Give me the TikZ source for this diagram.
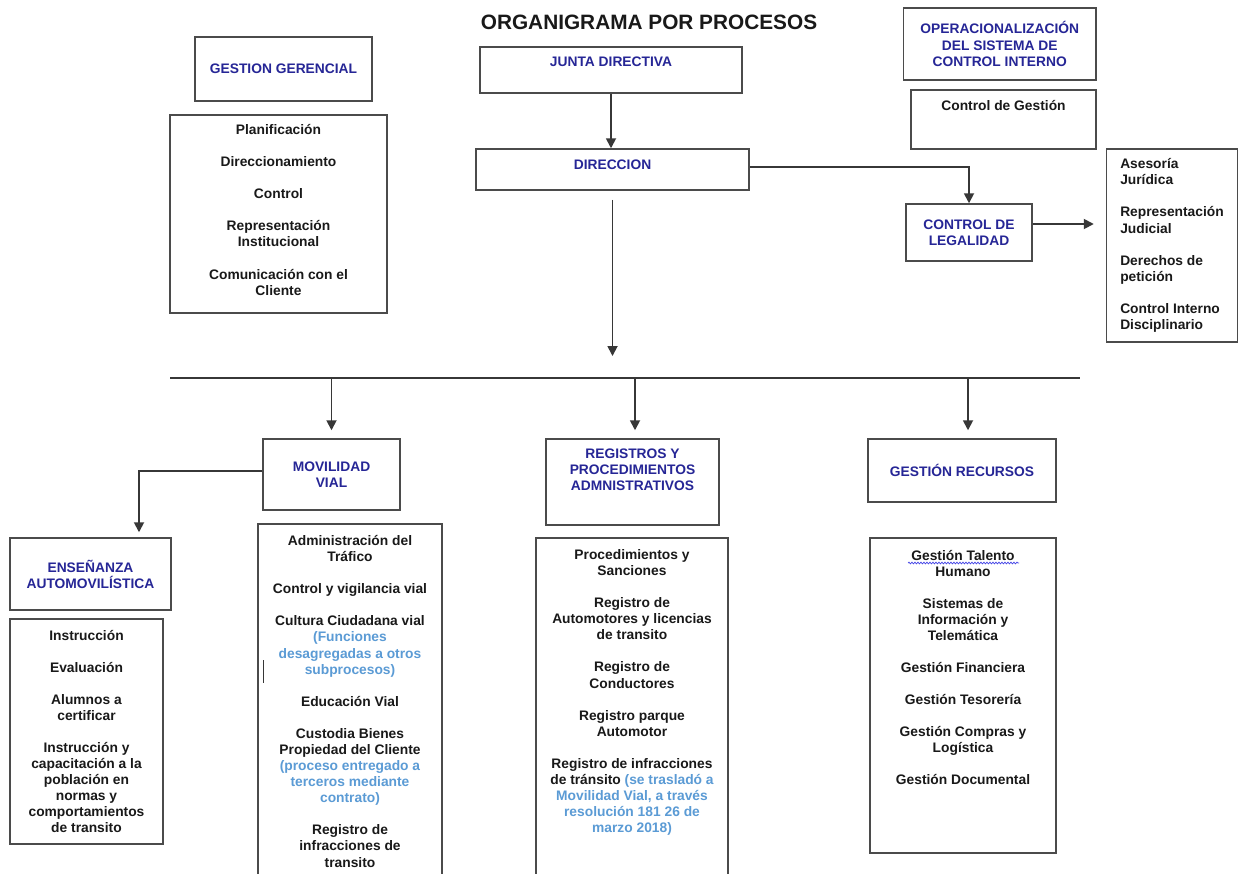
\documentclass[tikz,border=0pt]{standalone}
\usepackage{fontspec}
\setmainfont{Liberation Sans}
\usepackage{tikz}
\usetikzlibrary{arrows.meta,positioning,calc,decorations.pathmorphing}
\definecolor{headblue}{RGB}{38,38,150}
\definecolor{noteblue}{RGB}{91,155,213}
\definecolor{bodytext}{RGB}{25,25,25}
\definecolor{boxline}{RGB}{75,75,75}
\definecolor{lineblack}{RGB}{55,55,55}
\definecolor{spellblue}{RGB}{70,70,230}
\tikzset{
  basebox/.style={rectangle,draw=boxline,line width=1.5pt,align=center,inner sep=0pt,font=\bfseries\fontsize{13.8}{16.1}\selectfont},
  headnode/.style={basebox,text=headblue},
  listnode/.style={basebox,text=bodytext},
  txtnode/.style={align=center,inner sep=0pt,font=\bfseries\fontsize{13.8}{16.1}\selectfont,text=bodytext},
  titlenode/.style={inner sep=0pt,font=\bfseries\fontsize{20.8}{24}\selectfont,text=bodytext},
  arr/.style={-{Triangle[length=10pt,width=10pt]},line width=1.8pt,color=lineblack},
  plainline/.style={line width=1.8pt,color=lineblack}
}
\newcommand{\nota}[1]{{\color{noteblue}#1}}

\begin{document}
\begin{tikzpicture}[x=1pt,y=-1pt]
  \useasboundingbox (0,0) rectangle (1238,873);
  \fill[white] (0,0) rectangle (1238,873);
  \node[titlenode] (title) at (649,22) {ORGANIGRAMA POR PROCESOS};
  \node[headnode,minimum width=177pt,minimum height=64pt] (gerencial) at (283.5,69) {GESTION GERENCIAL};
  \node[basebox,minimum width=217pt,minimum height=198pt] (gerbox) at (278.5,214) {};
  \node[txtnode,below=10pt of gerbox.north] (gerlist) {Planificación\\[16pt]Direccionamiento\\[16pt]Control\\[16pt]Representación\\Institucional\\[16pt]Comunicación con el\\Cliente};
  \node[headnode,minimum width=262pt,text height=19pt,text depth=27pt] (junta) at (611,70) {JUNTA DIRECTIVA};
  \node[headnode,minimum width=273pt,text height=20pt,text depth=21pt] (direccion) at (612.5,169.5) {DIRECCION};
  \node[headnode,minimum width=192.5pt,minimum height=72pt] (opera) at (999.75,44) {OPERACIONALIZACIÓN\\DEL SISTEMA DE\\CONTROL INTERNO};
  \node[listnode,minimum width=185pt,text height=20pt,text depth=39pt] (gestcontrol) at (1003.5,119.5) {Control de Gestión};
  \node[headnode,minimum width=126pt,minimum height=57pt] (legalidad) at (969,232.5) {CONTROL DE\\LEGALIDAD};
  \node[listnode,align=left,minimum width=131pt,minimum height=193pt] (jurlist) at (1172,245.5) {Asesoría\\Jurídica\\[16pt]Representación\\Judicial\\[16pt]Derechos de\\petición\\[16pt]Control Interno\\Disciplinario};
  \coordinate (busleft) at (170,378);
  \coordinate (busright) at (1080,378);
  \node[headnode,minimum width=137pt,minimum height=71pt] (movilidad) at (331.5,474.5) {MOVILIDAD\\VIAL};
  \node[headnode,minimum width=161pt,minimum height=72pt] (ensenanza) at (90.5,574) {ENSEÑANZA\\AUTOMOVILÍSTICA};
  \node[listnode,minimum width=153pt,minimum height=225pt] (enslist) at (86.5,731.5) {Instrucción\\[16pt]Evaluación\\[16pt]Alumnos a\\certificar\\[16pt]Instrucción y\\capacitación a la\\población en\\normas y\\comportamientos\\de transito};
  \node[basebox,minimum width=184pt,minimum height=380pt] (movbox) at (350,714) {};
  \node[txtnode,below=12pt of movbox.north] (movlist) {Administración del\\Tráfico\\[16pt]Control y vigilancia vial\\[16pt]Cultura Ciudadana vial\\\nota{(Funciones}\\\nota{desagregadas a otros}\\\nota{subprocesos)}\\[16pt]Educación Vial\\[16pt]Custodia Bienes\\Propiedad del Cliente\\\nota{(proceso entregado a}\\\nota{terceros mediante}\\\nota{contrato)}\\[16pt]Registro de\\infracciones de\\transito};
  \node[basebox,minimum width=173pt,minimum height=86pt] (regbox) at (632.5,482) {};
  \node[txtnode,text=headblue,below=10pt of regbox.north] (registros) {REGISTROS Y\\PROCEDIMIENTOS\\ADMNISTRATIVOS};
  \node[basebox,minimum width=192pt,minimum height=380pt] (reglistbox) at (632,728) {};
  \node[txtnode,below=12pt of reglistbox.north] (reglist) {Procedimientos y\\Sanciones\\[16pt]Registro de\\Automotores y licencias\\de transito\\[16pt]Registro de\\Conductores\\[16pt]Registro parque\\Automotor\\[16pt]Registro de infracciones\\de tránsito \nota{(se trasladó a}\\\nota{Movilidad Vial, a través}\\\nota{resolución 181 26 de}\\\nota{marzo 2018)}};
  \node[headnode,minimum width=188pt,minimum height=63pt] (recursos) at (962,470.5) {GESTIÓN RECURSOS};
  \node[basebox,minimum width=186pt,minimum height=315pt] (reclistbox) at (963,695.5) {};
  \node[txtnode,below=12.5pt of reclistbox.north] (reclist) {Gestión Talento\\Humano\\[16pt]Sistemas de\\Información y\\Telemática\\[16pt]Gestión Financiera\\[16pt]Gestión Tesorería\\[16pt]Gestión Compras y\\Logística\\[16pt]Gestión Documental};
  \draw[arr] (junta.south) -- (junta.south |- direccion.north);
  \draw[arr] ([yshift=2.5pt]direccion.east) -| (legalidad.north);
  \draw[arr,shorten <=9pt,shorten >=22pt] (direccion.south) -- (direccion.south |- busleft);
  \draw[plainline] (busleft) -- (busright);
  \draw[arr,shorten >=8pt] (movilidad.north |- busleft) -- (movilidad.north);
  \draw[arr,shorten >=8pt] ([xshift=2.5pt]regbox.north |- busleft) -- ([xshift=2.5pt]regbox.north);
  \draw[arr,shorten >=8pt] ([xshift=6pt]recursos.north |- busleft) -- ([xshift=6pt]recursos.north);
  \draw[arr,shorten >=12pt] ([yshift=8.5pt]legalidad.east) -- ([yshift=8.5pt]legalidad.east -| jurlist.west);
  \draw[arr,shorten >=5pt] ([yshift=3.5pt]movilidad.west) -| ([xshift=48.5pt]ensenanza.north);
  \draw[line width=1pt,lineblack] (263,660) -- (263,683);
  \draw[spellblue,line width=0.7pt,decorate,decoration={snake,amplitude=0.9pt,segment length=3pt}] (908,563) -- (1019,563);
\end{tikzpicture}
\end{document}
